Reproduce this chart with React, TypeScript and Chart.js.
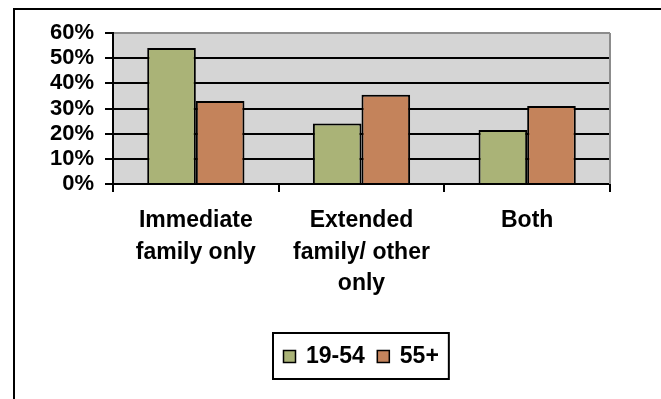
import React, { useEffect, useRef } from "react";
import { Chart, registerables } from "chart.js";

Chart.register(...registerables);

const categories: string[][] = [
  ["Immediate", "family only"],
  ["Extended", "family/ other", "only"],
  ["Both"],
];
const seriesNames = ["19-54", "55+"];
const values1954 = [54, 24, 21.5];
const values55 = [33, 35.5, 31];
const yTicks = [0, 10, 20, 30, 40, 50, 60];

const GREEN = "#aab377";
const ORANGE = "#c4835b";
const FONT = "'Liberation Sans', Arial, sans-serif";

const decorPlugin = {
  id: "decor",
  beforeDraw(chart: any) {
    const { ctx, chartArea } = chart;
    ctx.save();
    ctx.fillStyle = "#ffffff";
    ctx.fillRect(0, 0, chart.width, chart.height);
    ctx.fillStyle = "#d5d5d5";
    ctx.fillRect(chartArea.left, chartArea.top, chartArea.right - chartArea.left, chartArea.bottom - chartArea.top);
    ctx.restore();
  },
  beforeDatasetsDraw(chart: any) {
    const { ctx, chartArea } = chart;
    ctx.save();
    ctx.strokeStyle = "#8c8c8c";
    ctx.lineWidth = 2;
    ctx.beginPath();
    ctx.moveTo(chartArea.right, chartArea.top);
    ctx.lineTo(chartArea.right, chartArea.bottom);
    ctx.stroke();
    ctx.restore();
  },
  afterDraw(chart: any) {
    const { ctx, chartArea } = chart;
    ctx.save();
    // outer frame
    ctx.fillStyle = "#000";
    ctx.fillRect(13, 8, 2, chart.height - 8);
    ctx.fillRect(13, 8, chart.width - 13, 2);

    // legend
    const font = "bold 23px " + FONT;
    ctx.font = font;
    const pad = 10;
    const sq = 13;
    const gap = 10;
    const between = 12;
    const ds = chart.data.datasets;
    let total = pad * 2;
    const widths = ds.map((d: any) => ctx.measureText(d.label).width);
    widths.forEach((w: number, i: number) => {
      total += sq + gap + w + (i > 0 ? between : 0);
    });
    const cx = (chartArea.left + chartArea.right) / 2 - 1;
    const boxL = Math.round(cx - total / 2);
    const boxT = 333;
    const boxH = 46;
    const cy = boxT + boxH / 2;
    ctx.fillStyle = "#fff";
    ctx.fillRect(boxL, boxT, total, boxH);
    ctx.strokeStyle = "#000";
    ctx.lineWidth = 2;
    ctx.strokeRect(boxL, boxT, total, boxH);
    let x = boxL + pad;
    ds.forEach((d: any, i: number) => {
      if (i > 0) x += between;
      const sy = Math.round(cy - sq / 2);
      ctx.fillStyle = d.backgroundColor;
      ctx.fillRect(x, sy, sq, sq);
      ctx.lineWidth = 1.5;
      ctx.strokeStyle = "#000";
      ctx.strokeRect(x + 0.5, sy + 0.5, sq - 1, sq - 1);
      x += sq + gap;
      ctx.fillStyle = "#000";
      ctx.textBaseline = "middle";
      ctx.textAlign = "left";
      ctx.fillText(d.label, x, cy + 1);
      x += widths[i];
    });
    ctx.restore();
  },
};

export default function App() {
  const canvasRef = useRef<HTMLCanvasElement | null>(null);

  useEffect(() => {
    if (!canvasRef.current) return;
    const chart = new Chart(canvasRef.current, {
      type: "bar",
      data: {
        labels: categories,
        datasets: [
          {
            label: seriesNames[0],
            data: values1954,
            backgroundColor: GREEN,
            borderColor: "#000",
            borderWidth: 2,
            categoryPercentage: 0.587,
            barPercentage: 1,
          },
          {
            label: seriesNames[1],
            data: values55,
            backgroundColor: ORANGE,
            borderColor: "#000",
            borderWidth: 2,
            categoryPercentage: 0.587,
            barPercentage: 1,
          },
        ],
      },
      options: {
        responsive: false,
        animation: false,
        layout: { padding: { top: 33, right: 51, bottom: 0, left: 0 } },
        plugins: {
          legend: { display: false },
          tooltip: { enabled: false },
        },
        scales: {
          x: {
            grid: {
              offset: true,
              drawOnChartArea: false,
              drawTicks: true,
              tickLength: 8,
              color: "#000",
              lineWidth: 2,
            },
            border: { display: true, color: "#000", width: 2 },
            ticks: {
              color: "#000",
              padding: 13,
              maxRotation: 0,
              autoSkip: false,
              font: { family: FONT, size: 23, weight: "bold", lineHeight: 1.37 },
            },
            afterFit: (scale: any) => {
              scale.height = 215;
            },
          },
          y: {
            min: 0,
            max: 60,
            afterBuildTicks: (scale: any) => {
              scale.ticks = yTicks.map((v) => ({ value: v }));
            },
            grid: {
              color: (ctx: any) => (ctx.tick && ctx.tick.value === 60 ? "#8c8c8c" : "#000"),
              tickColor: "#000",
              lineWidth: 2,
              drawTicks: true,
              tickLength: 8,
            },
            border: { display: true, color: "#000", width: 2 },
            ticks: {
              color: "#000",
              padding: 11,
              autoSkip: false,
              font: { family: FONT, size: 22, weight: "bold", lineHeight: 1 },
              callback: (v: any) => v + "%",
            },
            afterFit: (scale: any) => {
              scale.width = 113;
            },
          },
        },
      },
      plugins: [decorPlugin],
    });
    return () => chart.destroy();
  }, []);

  return (
    <div style={{ position: "absolute", left: 0, top: 0, width: 661, height: 399 }}>
      <canvas ref={canvasRef} width={661} height={399} style={{ display: "block" }} />
    </div>
  );
}
